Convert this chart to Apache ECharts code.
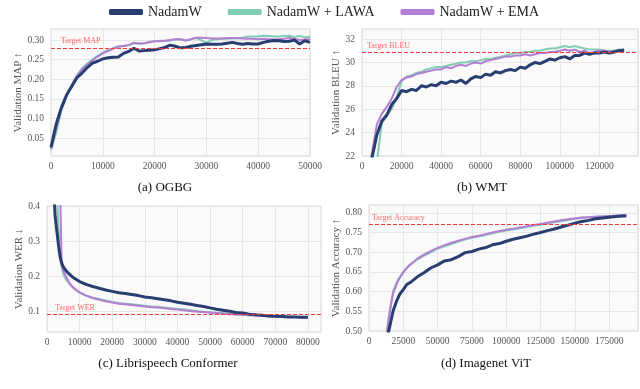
<!DOCTYPE html>
<html>
<head>
<meta charset="utf-8">
<script src="https://cdn.jsdelivr.net/npm/echarts@6/dist/echarts.min.js"></script>
<style>
  html, body { margin: 0; padding: 0; background: #fff; }
  #chart { width: 640px; height: 389px; }
</style>
</head>
<body>
<div id="chart"></div>
<script>
  var seriesNames = ['NadamW', 'NadamW + LAWA', 'NadamW + EMA']
  var seriesColors = ['#283e70', '#80cdb4', '#b47dd2']
  var captions = ['(a) OGBG', '(b) WMT', '(c) Librispeech Conformer', '(d) Imagenet ViT']
  var yNames = ['Validation MAP \u2191', 'Validation BLEU \u2191', 'Validation WER \u2193', 'Validation Accuracy \u2191']
  var targetNames = ['Target MAP', 'Target BLEU', 'Target WER', 'Target Accuracy']
  var targetValues = [0.281, 30.85, 0.0859, 0.773]

  // (a) OGBG
  var ogbgSteps = [0, 1000, 2000, 3000, 4000, 5000, 6000, 7000, 8000, 9000,
    10000, 11000, 12000, 13000, 14000, 15000, 16000, 17000, 18000, 19000,
    20000, 21000, 22000, 23000, 24000, 25000, 26000, 27000, 28000, 29000,
    30000, 31000, 32000, 33000, 34000, 35000, 36000, 37000, 38000, 39000,
    40000, 41000, 42000, 43000, 44000, 45000, 46000, 47000, 48000, 49000,
    50000]
  var ogbgNadamw = [0.027, 0.086, 0.128, 0.160, 0.182, 0.204, 0.216, 0.230, 0.241, 0.246,
    0.252, 0.255, 0.256, 0.257, 0.266, 0.271, 0.279, 0.272, 0.273, 0.274,
    0.275, 0.278, 0.281, 0.287, 0.284, 0.280, 0.281, 0.284, 0.286, 0.288,
    0.290, 0.289, 0.289, 0.290, 0.292, 0.294, 0.291, 0.289, 0.291, 0.290,
    0.290, 0.294, 0.297, 0.299, 0.298, 0.296, 0.297, 0.300, 0.290, 0.298,
    0.294]
  var ogbgLawa = [0.020, 0.065, 0.120, 0.158, 0.185, 0.210, 0.228, 0.240, 0.250, 0.260,
    0.268, 0.274, 0.279, 0.284, 0.285, 0.287, 0.291, 0.291, 0.292, 0.294,
    0.297, 0.298, 0.298, 0.299, 0.301, 0.302, 0.299, 0.302, 0.305, 0.300,
    0.293, 0.300, 0.302, 0.303, 0.303, 0.304, 0.304, 0.306, 0.309, 0.309,
    0.309, 0.311, 0.310, 0.309, 0.309, 0.310, 0.311, 0.308, 0.310, 0.307,
    0.308]
  var ogbgEma = [0.024, 0.075, 0.125, 0.160, 0.186, 0.208, 0.225, 0.237, 0.248, 0.258,
    0.266, 0.272, 0.278, 0.283, 0.285, 0.287, 0.293, 0.291, 0.292, 0.295,
    0.297, 0.297, 0.298, 0.300, 0.302, 0.302, 0.299, 0.302, 0.306, 0.306,
    0.305, 0.304, 0.304, 0.304, 0.305, 0.305, 0.305, 0.304, 0.303, 0.303,
    0.302, 0.303, 0.302, 0.301, 0.302, 0.303, 0.305, 0.303, 0.300, 0.301,
    0.302]

  // (b) WMT
  var wmtSteps = [2500, 5000, 7500, 10000, 12500, 15000, 17500, 20000, 22500, 25000,
    27500, 30000, 32500, 35000, 37500, 40000, 42500, 45000, 47500, 50000,
    52500, 55000, 57500, 60000, 62500, 65000, 67500, 70000, 72500, 75000,
    77500, 80000, 82500, 85000, 87500, 90000, 92500, 95000, 97500, 100000,
    102500, 105000, 107500, 110000, 112500, 115000, 117500, 120000, 122500, 125000,
    127500, 130000, 132500]
  var wmtNadamw = [20.0, 21.8, 23.8, 25.0, 25.5, 26.4, 26.9, 27.6, 27.5, 27.7,
    27.6, 28.0, 27.9, 28.1, 28.0, 28.3, 28.2, 28.4, 28.3, 28.5,
    28.2, 28.6, 28.8, 28.7, 29.0, 28.9, 29.2, 29.1, 29.3, 29.4,
    29.3, 29.6, 29.5, 29.8, 30.0, 29.9, 30.1, 30.3, 30.2, 30.4,
    30.5, 30.3, 30.6, 30.6, 30.8, 30.7, 30.8, 30.8, 30.9, 30.8,
    30.9, 31.0, 31.05]
  var wmtLawa = [19.0, 20.0, 21.5, 24.8, 25.4, 26.0, 27.0, 28.4, 28.8, 28.9,
    29.1, 29.2, 29.4, 29.5, 29.6, 29.6, 29.7, 29.8, 29.9, 30.0,
    30.0, 30.1, 30.1, 30.2, 30.3, 30.3, 30.4, 30.5, 30.6, 30.7,
    30.8, 30.8, 30.9, 30.9, 31.0, 31.0, 31.1, 31.2, 31.2, 31.3,
    31.4, 31.3, 31.4, 31.3, 31.2, 31.1, 31.1, 31.1, 31.0, 31.0,
    31.0, 31.1, 31.1]
  var wmtEma = [20.0, 22.2, 24.7, 25.6, 26.2, 26.9, 27.9, 28.5, 28.7, 28.8,
    29.0, 29.1, 29.2, 29.3, 29.4, 29.4, 29.6, 29.5, 29.7, 29.8,
    29.7, 29.9, 30.0, 29.9, 30.1, 30.2, 30.3, 30.4, 30.5, 30.5,
    30.6, 30.6, 30.7, 30.6, 30.7, 30.8, 30.8, 30.9, 30.9, 31.0,
    31.1, 31.0, 31.1, 30.9, 31.0, 30.8, 30.9, 31.0, 31.0, 30.9,
    31.0, 31.0, 31.1]

  // (c) Librispeech Conformer
  var libriSteps = [2000, 2500, 3000, 3500, 4000, 4500, 5000, 6000, 7000, 8000,
    10000, 12000, 14000, 16000, 18000, 20000, 22000, 24000, 26000, 28000,
    30000, 32000, 34000, 36000, 38000, 40000, 42000, 44000, 46000, 48000,
    50000, 52000, 54000, 56000, 58000, 60000, 62000, 64000, 66000, 68000,
    70000, 72000, 74000, 76000, 78000, 80000]
  var libriNadamw = [0.46, 0.37, 0.33, 0.29, 0.255, 0.237, 0.226, 0.213, 0.204, 0.196,
    0.184, 0.176, 0.170, 0.165, 0.160, 0.156, 0.152, 0.150, 0.147, 0.144,
    0.140, 0.138, 0.135, 0.132, 0.129, 0.125, 0.122, 0.119, 0.116, 0.113,
    0.109, 0.105, 0.102, 0.099, 0.096, 0.094, 0.091, 0.089, 0.088, 0.086,
    0.085, 0.084, 0.083, 0.083, 0.082, 0.082]
  var libriLawa = [0.60, 0.55, 0.45, 0.34, 0.26, 0.226, 0.205, 0.188, 0.176, 0.166,
    0.152, 0.144, 0.138, 0.134, 0.130, 0.126, 0.123, 0.121, 0.119, 0.117,
    0.115, 0.113, 0.112, 0.110, 0.108, 0.106, 0.104, 0.102, 0.100, 0.098,
    0.097, 0.095, 0.094, 0.092, 0.091, 0.090, 0.089, 0.088, 0.087, 0.086,
    0.085, 0.084, 0.084, 0.083, 0.083, 0.082]
  var libriEma = [0.70, 0.62, 0.56, 0.50, 0.45, 0.235, 0.215, 0.195, 0.178, 0.168,
    0.153, 0.144, 0.137, 0.132, 0.128, 0.124, 0.121, 0.119, 0.117, 0.115,
    0.113, 0.111, 0.110, 0.108, 0.106, 0.104, 0.102, 0.100, 0.098, 0.097,
    0.095, 0.094, 0.092, 0.091, 0.090, 0.089, 0.088, 0.087, 0.086, 0.085,
    0.084, 0.084, 0.083, 0.083, 0.082, 0.082]

  // (d) Imagenet ViT
  var vitSteps = [10000, 12500, 15000, 17500, 20000, 22500, 25000, 27500, 30000, 35000,
    40000, 45000, 50000, 55000, 60000, 65000, 70000, 75000, 80000, 85000,
    90000, 95000, 100000, 105000, 110000, 115000, 120000, 125000, 130000, 135000,
    140000, 145000, 150000, 155000, 160000, 165000, 170000, 175000, 180000, 185000,
    187500]
  var vitNadamw = [0.40, 0.47, 0.51, 0.55, 0.575, 0.594, 0.605, 0.618, 0.623, 0.637,
    0.648, 0.660, 0.668, 0.678, 0.681, 0.689, 0.699, 0.702, 0.708, 0.712,
    0.719, 0.722, 0.728, 0.733, 0.737, 0.741, 0.746, 0.750, 0.755, 0.759,
    0.764, 0.769, 0.774, 0.778, 0.781, 0.785, 0.787, 0.789, 0.791, 0.792,
    0.792]
  var vitLawa = [0.42, 0.49, 0.55, 0.60, 0.622, 0.638, 0.650, 0.660, 0.668, 0.681,
    0.691, 0.700, 0.709, 0.715, 0.721, 0.727, 0.732, 0.737, 0.740, 0.744,
    0.748, 0.752, 0.755, 0.758, 0.761, 0.764, 0.767, 0.770, 0.773, 0.776,
    0.779, 0.782, 0.785, 0.787, 0.789, 0.790, 0.791, 0.792, 0.793, 0.794,
    0.794]
  var vitEma = [0.40, 0.48, 0.545, 0.595, 0.618, 0.636, 0.649, 0.660, 0.669, 0.683,
    0.694, 0.703, 0.711, 0.718, 0.724, 0.729, 0.734, 0.739, 0.742, 0.746,
    0.750, 0.754, 0.757, 0.760, 0.763, 0.766, 0.769, 0.772, 0.775, 0.778,
    0.781, 0.784, 0.786, 0.788, 0.789, 0.790, 0.791, 0.792, 0.793, 0.794,
    0.794]

  var panels = [
    { steps: ogbgSteps, vals: [ogbgNadamw, ogbgLawa, ogbgEma] },
    { steps: wmtSteps, vals: [wmtNadamw, wmtLawa, wmtEma] },
    { steps: libriSteps, vals: [libriNadamw, libriLawa, libriEma] },
    { steps: vitSteps, vals: [vitNadamw, vitLawa, vitEma] }
  ]

  var FONT = 'Liberation Serif'

  var grids = [
    { left: 51, top: 29, width: 259, height: 127 },
    { left: 362, top: 29, width: 276, height: 127 },
    { left: 47, top: 206, width: 274, height: 126 },
    { left: 369, top: 205, width: 269, height: 126 }
  ]
  // label distance of target text from the plot's left edge
  var targetLabelDist = [[10, 3], [5, 3], [8, 3], [3, 3]]
  var yNameGaps = [23, 17, 18, 23]

  function pairs(steps, vals) {
    return steps.map(function (s, i) { return [s, vals[i]] })
  }

  var xRanges = [
    { min: 0, max: 50000, interval: 10000 },
    { min: 0, max: 139500, interval: 20000 },
    { min: 0, max: 84000, interval: 10000 },
    { min: 0, max: 196000, interval: 25000 }
  ]
  var yRanges = [
    { min: 0.005, max: 0.328, splitNumber: 6, fmt: function (v) { return v.toFixed(2) } },
    { min: 22, max: 32.86, interval: 2, fmt: function (v) { return String(v) } },
    { min: 0.04, max: 0.4, splitNumber: 4, fmt: function (v) { return v.toFixed(1) } },
    { min: 0.5, max: 0.82, interval: 0.05, fmt: function (v) { return v.toFixed(2) } }
  ]

  var gridOpts = grids.map(function (g) {
    return Object.assign({
      show: true,
      backgroundColor: '#fafafa',
      borderColor: '#d9d9d9',
      borderWidth: 1,
      containLabel: false
    }, g)
  })

  var xAxes = xRanges.map(function (r, i) {
    return {
      type: 'value',
      gridIndex: i,
      min: r.min,
      max: r.max,
      interval: r.interval,
      axisLine: { show: false },
      axisTick: { show: false },
      splitLine: { show: true, lineStyle: { color: '#e6e6e6', width: 1 } },
      axisLabel: {
        showMaxLabel: i === 0,
        margin: 5,
        color: '#555',
        fontFamily: FONT,
        fontSize: 9.5,
        formatter: function (v) { return String(v) }
      }
    }
  })

  var yAxes = yRanges.map(function (r, i) {
    var ax = {
      type: 'value',
      gridIndex: i,
      min: r.min,
      max: r.max,
      name: yNames[i],
      nameLocation: 'middle',
      nameGap: yNameGaps[i],
      nameTextStyle: { color: '#555', fontFamily: FONT, fontSize: 11 },
      axisLine: { show: false },
      axisTick: { show: false },
      splitLine: { show: true, lineStyle: { color: '#e6e6e6', width: 1 } },
      axisLabel: {
        showMinLabel: i === 1 || i === 3,
        showMaxLabel: i === 2,
        margin: 7,
        color: '#555',
        fontFamily: FONT,
        fontSize: 9.5,
        formatter: r.fmt
      }
    }
    if (r.interval) ax.interval = r.interval
    if (r.splitNumber) ax.splitNumber = r.splitNumber
    return ax
  })

  var series = []
  panels.forEach(function (p, i) {
    // draw LAWA, EMA first, NadamW on top
    [1, 2, 0].forEach(function (k) {
      var s = {
        name: seriesNames[k],
        type: 'line',
        xAxisIndex: i,
        yAxisIndex: i,
        data: pairs(p.steps, p.vals[k]),
        color: seriesColors[k],
        showSymbol: false,
        symbol: 'none',
        clip: true,
        lineStyle: { width: k === 0 ? 3 : 2, color: seriesColors[k] },
        z: k === 0 ? 4 : 3
      }
      if (k === 0) {
        s.markLine = {
          silent: true,
          symbol: 'none',
          animation: false,
          lineStyle: { color: '#ff3a3a', type: [4, 2], width: 1.2 },
          label: {
            position: 'insideStartTop',
            formatter: targetNames[i],
            color: '#ff6a6a',
            fontFamily: FONT,
            fontSize: 8,
            distance: targetLabelDist[i]
          },
          data: [{ yAxis: targetValues[i] }]
        }
      }
      series.push(s)
    })
  })

  var captionPos = [[165, 188], [482, 188], [168, 364], [486, 364]]
  var graphics = captions.map(function (c, i) {
    return {
      type: 'text',
      x: captionPos[i][0],
      y: captionPos[i][1],
      style: {
        text: c,
        font: '13px "Liberation Serif"',
        fill: '#111',
        textAlign: 'center',
        textVerticalAlign: 'middle',
        align: 'center',
        verticalAlign: 'middle'
      }
    }
  })

  var chart = echarts.init(document.getElementById('chart'))
  chart.setOption({
    animation: false,
    backgroundColor: '#fff',
    textStyle: { fontFamily: FONT },
    legend: {
      data: seriesNames,
      top: 0,
      left: 104,
      icon: 'roundRect',
      itemWidth: 34,
      itemHeight: 6,
      itemGap: 26,
      textStyle: { color: '#222', fontFamily: FONT, fontSize: 14 }
    },
    grid: gridOpts,
    xAxis: xAxes,
    yAxis: yAxes,
    series: series,
    graphic: graphics
  })
</script>
</body>
</html>
